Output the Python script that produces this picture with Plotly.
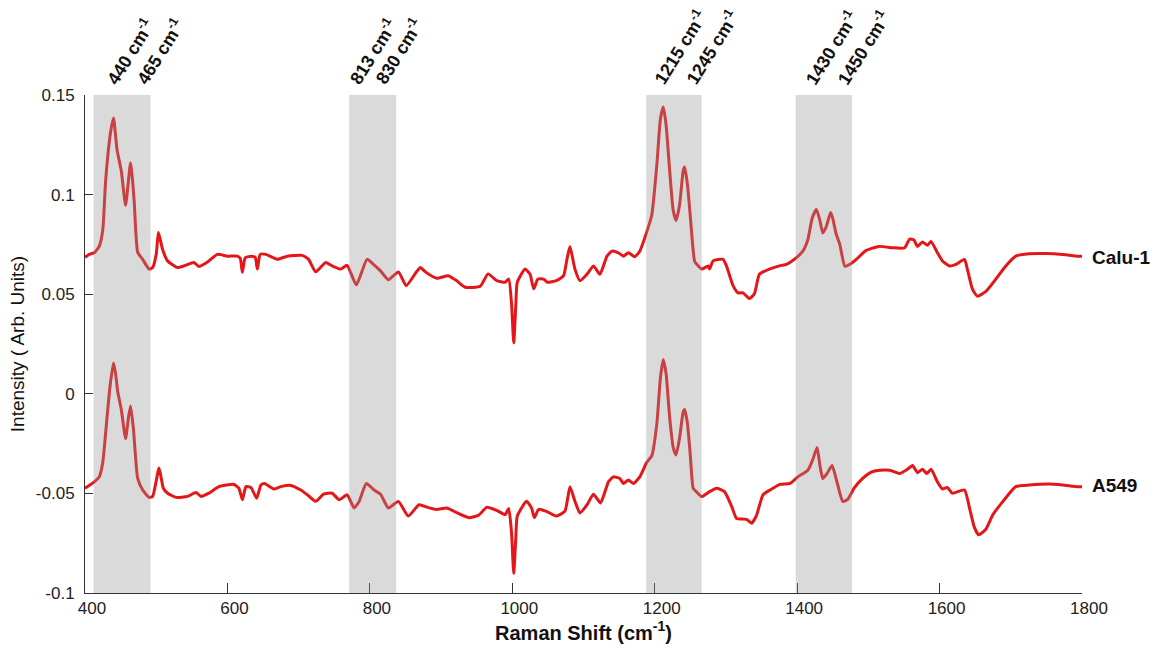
import plotly.graph_objects as go

# Raman spectra (x: Raman shift in cm-1, y: intensity, arbitrary units)
calu_shift = [400, 406, 413, 420, 425, 429, 436, 440, 445, 451, 457, 464, 469, 474, 481, 490, 495, 500,
              503, 506, 509, 516, 530, 539, 553, 560, 572, 586, 600, 614, 618, 621, 625, 634, 639, 642,
              646, 654, 670, 684, 705, 714, 724, 738, 747, 759, 768, 781, 796, 805, 815, 826, 840, 851,
              865, 871, 878, 894, 910, 922, 934, 955, 966, 978, 990, 995, 999, 1002, 1005, 1007, 1018,
              1025, 1030, 1036, 1044, 1049, 1062, 1072, 1077, 1081, 1088, 1095, 1105, 1114, 1123, 1133,
              1140, 1149, 1156, 1163, 1172, 1179, 1189, 1196, 1203, 1208, 1212, 1216, 1221, 1226, 1230,
              1235, 1240, 1242, 1246, 1250, 1256, 1259, 1266, 1275, 1277, 1282, 1296, 1301, 1310, 1317,
              1324, 1333, 1340, 1347, 1361, 1375, 1385, 1396, 1408, 1415, 1421, 1427, 1432, 1436, 1441,
              1447, 1450, 1455, 1460, 1467, 1474, 1483, 1497, 1515, 1534, 1551, 1558, 1564, 1569, 1576,
              1583, 1588, 1597, 1604, 1614, 1623, 1635, 1639, 1646, 1653, 1665, 1679, 1693, 1707, 1726,
              1749, 1773, 1794, 1800]
calu_intensity = [0.0685, 0.0700, 0.0708, 0.0740, 0.0823, 0.1070, 0.1315, 0.1385, 0.1225, 0.1118, 0.0946,
                  0.1160, 0.0970, 0.0710, 0.0675, 0.0626, 0.0634, 0.0700, 0.0810, 0.0770, 0.0724, 0.0667,
                  0.0634, 0.0642, 0.0659, 0.0639, 0.0662, 0.0700, 0.0691, 0.0691, 0.0680, 0.0610, 0.0683,
                  0.0691, 0.0685, 0.0626, 0.0700, 0.0700, 0.0675, 0.0691, 0.0695, 0.0675, 0.0612, 0.0659,
                  0.0642, 0.0626, 0.0645, 0.0547, 0.0675, 0.0650, 0.0617, 0.0573, 0.0612, 0.0543, 0.0610,
                  0.0634, 0.0612, 0.0580, 0.0593, 0.0567, 0.0535, 0.0540, 0.0602, 0.0568, 0.0560, 0.0576,
                  0.0450, 0.0256, 0.0450, 0.0560, 0.0626, 0.0600, 0.0527, 0.0576, 0.0576, 0.0560, 0.0568,
                  0.0593, 0.0680, 0.0740, 0.0626, 0.0568, 0.0601, 0.0642, 0.0600, 0.0691, 0.0716, 0.0708,
                  0.0691, 0.0708, 0.0688, 0.0716, 0.0814, 0.0900, 0.1150, 0.1380, 0.1440, 0.1350, 0.1120,
                  0.0920, 0.0870, 0.0950, 0.1120, 0.1139, 0.1050, 0.0890, 0.0665, 0.0650, 0.0626, 0.0642,
                  0.0626, 0.0667, 0.0675, 0.0640, 0.0543, 0.0507, 0.0507, 0.0478, 0.0502, 0.0600, 0.0626,
                  0.0642, 0.0650, 0.0675, 0.0716, 0.0773, 0.0880, 0.0925, 0.0870, 0.0807, 0.0840, 0.0910,
                  0.0880, 0.0800, 0.0749, 0.0640, 0.0650, 0.0675, 0.0720, 0.0740, 0.0733, 0.0733, 0.0777,
                  0.0772, 0.0740, 0.0762, 0.0746, 0.0765, 0.0708, 0.0667, 0.0642, 0.0650, 0.0675, 0.0626,
                  0.0527, 0.0490, 0.0514, 0.0576, 0.0642, 0.0691, 0.0703, 0.0704, 0.0699, 0.0691, 0.0690]

a549_shift = [400, 413, 420, 425, 429, 435, 440, 443, 446, 451, 457, 461, 464, 468, 474, 481, 490, 495,
              504, 510, 516, 528, 544, 556, 563, 574, 588, 609, 616, 621, 626, 633, 641, 647, 652, 665,
              675, 689, 703, 714, 724, 735, 747, 757, 768, 778, 785, 795, 806, 815, 826, 840, 854, 869,
              880, 894, 908, 922, 939, 953, 964, 978, 990, 995, 999, 1002, 1005, 1007, 1020, 1027, 1031,
              1037, 1048, 1062, 1074, 1081, 1088, 1095, 1105, 1114, 1124, 1135, 1142, 1151, 1156, 1163,
              1170, 1179, 1189, 1196, 1203, 1208, 1212, 1216, 1221, 1226, 1230, 1235, 1240, 1242, 1246,
              1250, 1254, 1258, 1266, 1277, 1287, 1298, 1308, 1315, 1329, 1336, 1343, 1352, 1362, 1376,
              1390, 1401, 1415, 1422, 1428, 1432, 1436, 1442, 1449, 1457, 1464, 1471, 1480, 1492, 1504,
              1516, 1530, 1544, 1555, 1562, 1569, 1576, 1582, 1588, 1597, 1604, 1611, 1618, 1635, 1642,
              1649, 1655, 1665, 1675, 1689, 1707, 1726, 1754, 1773, 1794, 1800]
a549_intensity = [-0.0474, -0.0442, -0.0417, -0.0343, -0.0196, 0.0034, 0.0155, 0.0100, 0.0010, -0.0080,
                  -0.0225, -0.0120, -0.0061, -0.0176, -0.0425, -0.0483, -0.0520, -0.0515, -0.0373,
                  -0.0474, -0.0499, -0.0520, -0.0515, -0.0496, -0.0515, -0.0499, -0.0466, -0.0455,
                  -0.0474, -0.0532, -0.0466, -0.0470, -0.0524, -0.0458, -0.0450, -0.0478, -0.0466,
                  -0.0460, -0.0483, -0.0512, -0.0540, -0.0504, -0.0499, -0.0532, -0.0507, -0.0573,
                  -0.0540, -0.0450, -0.0483, -0.0504, -0.0573, -0.0540, -0.0614, -0.0557, -0.0569,
                  -0.0581, -0.0573, -0.0597, -0.0622, -0.0609, -0.0570, -0.0585, -0.0606, -0.0576,
                  -0.0700, -0.0901, -0.0720, -0.0614, -0.0540, -0.0573, -0.0622, -0.0580, -0.0590,
                  -0.0614, -0.0589, -0.0466, -0.0540, -0.0598, -0.0557, -0.0504, -0.0548, -0.0442,
                  -0.0417, -0.0425, -0.0450, -0.0433, -0.0450, -0.0417, -0.0343, -0.0310, -0.0150,
                  0.0080, 0.0172, 0.0100, -0.0120, -0.0270, -0.0307, -0.0220, -0.0090, -0.0079, -0.0150,
                  -0.0310, -0.0474, -0.0490, -0.0516, -0.0491, -0.0474, -0.0491, -0.0565, -0.0626,
                  -0.0630, -0.0650, -0.0610, -0.0507, -0.0483, -0.0455, -0.0450, -0.0417, -0.0384,
                  -0.0330, -0.0269, -0.0360, -0.0425, -0.0400, -0.0360, -0.0458, -0.0540, -0.0530,
                  -0.0474, -0.0425, -0.0393, -0.0384, -0.0384, -0.0400, -0.0379, -0.0360, -0.0396,
                  -0.0379, -0.0400, -0.0379, -0.0442, -0.0478, -0.0470, -0.0499, -0.0483, -0.0573,
                  -0.0672, -0.0708, -0.0680, -0.0606, -0.0540, -0.0466, -0.0458, -0.0453, -0.0458,
                  -0.0466, -0.0466]

series_names = ["Calu-1", "A549"]
series_label_y = [0.0685, -0.0462]

# Highlighted spectral windows (cm-1) and their peak labels
band_start = [412, 771, 1188, 1398]
band_end = [492, 837, 1266, 1477]
peak_labels = ["440", "465", "813", "830", "1215", "1245", "1430", "1450"]
peak_label_x = [419, 461, 760, 796, 1187, 1232, 1400, 1445]

x_ticks = [400, 600, 800, 1000, 1200, 1400, 1600, 1800]
y_ticks = [-0.1, -0.05, 0, 0.05, 0.1, 0.15]
y_tick_text = ["-0.1", "-0.05", "0", "0.05", "0.1", "0.15"]

FONT = "Arial, Liberation Sans, sans-serif"
RED = "rgb(228,22,24)"

fig = go.Figure()
for xs, ys, name in [(calu_shift, calu_intensity, series_names[0]),
                     (a549_shift, a549_intensity, series_names[1])]:
    fig.add_trace(go.Scatter(x=xs, y=ys, mode="lines", name=name,
                             line=dict(color=RED, width=3, shape="spline", smoothing=0.5),
                             showlegend=False, hoverinfo="x+y"))

for x0, x1 in zip(band_start, band_end):
    fig.add_shape(type="rect", xref="x", yref="paper", x0=x0, x1=x1, y0=0, y1=1,
                  fillcolor="rgba(150,150,150,0.35)", line=dict(width=0), layer="above")

for txt, xp in zip(peak_labels, peak_label_x):
    fig.add_annotation(x=xp, y=1.008, xref="x", yref="paper", xanchor="left", yanchor="bottom",
                       text=f"<b>{txt} cm<sup>-1</sup></b>", showarrow=False, textangle=-58,
                       font=dict(family=FONT, size=18, color="#111"))

for name, yv in zip(series_names, series_label_y):
    fig.add_annotation(x=1.008, y=yv, xref="paper", yref="y", xanchor="left", yanchor="middle",
                       text=f"<b>{name}</b>", showarrow=False,
                       font=dict(family=FONT, size=19, color="#111"))

fig.update_layout(
    width=1162, height=648,
    margin=dict(l=85, r=80, t=95, b=48),
    paper_bgcolor="white", plot_bgcolor="white",
    font=dict(family=FONT, color="#222"),
    xaxis=dict(range=[400, 1800], tickvals=x_ticks, ticks="inside", ticklen=10, tickcolor="#333",
               showline=True, linecolor="#333", linewidth=1, showgrid=False, zeroline=False,
               tickfont=dict(size=17, color="#222"), ticklabelshift=7,
               title=dict(text="<b>Raman Shift (cm<sup>-1</sup>)</b>", standoff=4,
                          font=dict(size=20, color="#111"))),
    yaxis=dict(range=[-0.1, 0.15], tickvals=y_ticks, ticktext=y_tick_text, ticks="inside",
               ticklen=8, tickcolor="#333", showline=True, linecolor="#333", linewidth=1,
               showgrid=False, zeroline=False, tickfont=dict(size=17, color="#222"),
               ticklabelstandoff=6,
               title=dict(text="Intensity ( Arb. Units)", standoff=6,
                          font=dict(size=19, color="#111"))),
)

fig.write_html("out.html")
